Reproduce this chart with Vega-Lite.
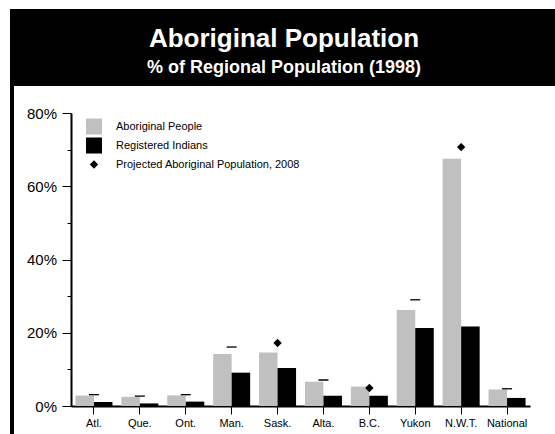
{
  "$schema": "https://vega.github.io/schema/vega-lite/v6.json",
  "padding": {"left": 10, "top": 9, "right": 0, "bottom": 0},
  "background": "white",
  "spacing": 0,
  "resolve": {"legend": {"color": "independent"}, "scale": {"color": "independent", "x": "independent", "y": "independent"}},
  "config": {"view": {"stroke": null}, "font": "Liberation Sans"},
  "datasets": {
    "bars": [
      {"region": "Atl.", "series": "Aboriginal People", "pct": 2.9},
      {"region": "Atl.", "series": "Registered Indians", "pct": 1.1},
      {"region": "Que.", "series": "Aboriginal People", "pct": 2.5},
      {"region": "Que.", "series": "Registered Indians", "pct": 0.7},
      {"region": "Ont.", "series": "Aboriginal People", "pct": 2.9},
      {"region": "Ont.", "series": "Registered Indians", "pct": 1.2},
      {"region": "Man.", "series": "Aboriginal People", "pct": 14.2},
      {"region": "Man.", "series": "Registered Indians", "pct": 9.1},
      {"region": "Sask.", "series": "Aboriginal People", "pct": 14.6},
      {"region": "Sask.", "series": "Registered Indians", "pct": 10.4},
      {"region": "Alta.", "series": "Aboriginal People", "pct": 6.6},
      {"region": "Alta.", "series": "Registered Indians", "pct": 2.8},
      {"region": "B.C.", "series": "Aboriginal People", "pct": 5.3},
      {"region": "B.C.", "series": "Registered Indians", "pct": 2.8},
      {"region": "Yukon", "series": "Aboriginal People", "pct": 26.2},
      {"region": "Yukon", "series": "Registered Indians", "pct": 21.3},
      {"region": "N.W.T.", "series": "Aboriginal People", "pct": 67.5},
      {"region": "N.W.T.", "series": "Registered Indians", "pct": 21.7},
      {"region": "National", "series": "Aboriginal People", "pct": 4.5},
      {"region": "National", "series": "Registered Indians", "pct": 2.2}
    ],
    "projected": [
      {"region": "Atl.", "pct": 3.1},
      {"region": "Que.", "pct": 2.7},
      {"region": "Ont.", "pct": 3.1},
      {"region": "Man.", "pct": 16.1},
      {"region": "Sask.", "pct": 17.2},
      {"region": "Alta.", "pct": 7.1},
      {"region": "B.C.", "pct": 4.9},
      {"region": "Yukon", "pct": 29.0},
      {"region": "N.W.T.", "pct": 70.7},
      {"region": "National", "pct": 4.7}
    ]
  },
  "vconcat": [
    {
      "width": 545,
      "height": 77,
      "view": {"fill": "black", "stroke": null},
      "data": {"values": [
        {"line": "title", "text": "Aboriginal Population"},
        {"line": "subtitle", "text": "% of Regional Population (1998)"}
      ]},
      "layer": [
        {
          "transform": [{"filter": "datum.line === 'title'"}],
          "mark": {"type": "text", "color": "white", "fontSize": 26, "fontWeight": "bold", "font": "Liberation Sans", "baseline": "alphabetic", "align": "center", "dx": 1.5, "dy": -1},
          "encoding": {"text": {"field": "text"}}
        },
        {
          "transform": [{"filter": "datum.line === 'subtitle'"}],
          "mark": {"type": "text", "color": "white", "fontSize": 18, "fontWeight": "bold", "font": "Liberation Sans", "baseline": "alphabetic", "align": "center", "dx": 1.5, "dy": 25},
          "encoding": {"text": {"field": "text"}}
        }
      ]
    },
    {
      "spacing": 0,
      "resolve": {"legend": {"color": "independent"}, "scale": {"color": "independent", "x": "independent", "y": "independent"}},
      "hconcat": [
        {
          "width": 4,
          "height": 348,
          "view": {"fill": "black", "stroke": null},
          "data": {"values": [{"t": ""}]},
          "mark": {"type": "text"},
          "encoding": {"text": {"field": "t"}}
        },
        {
          "spacing": 0,
          "bounds": "flush",
          "resolve": {"legend": {"color": "independent"}, "scale": {"color": "independent", "x": "independent", "y": "independent"}},
          "vconcat": [
            {
              "width": 459,
              "height": 26.5,
              "data": {"values": [{"t": ""}]},
              "mark": {"type": "text"},
              "encoding": {"text": {"field": "t"}}
            },
            {
              "width": 459,
              "height": 293,
              "resolve": {"axis": {"y": "independent"}},
              "layer": [
                {
                  "data": {"name": "bars"},
                  "mark": {"type": "bar"},
                  "encoding": {
                    "x": {
                      "field": "region", "type": "nominal",
                      "sort": ["Atl.", "Que.", "Ont.", "Man.", "Sask.", "Alta.", "B.C.", "Yukon", "N.W.T.", "National"],
                      "scale": {"paddingInner": 0, "paddingOuter": 0},
                      "axis": {"title": null, "labelAngle": 0, "labelFontSize": 11, "labelColor": "black", "labelFont": "Liberation Sans", "tickSize": 8, "tickColor": "black", "tickWidth": 1, "domainColor": "black", "domainWidth": 2, "labelPadding": 3, "grid": false}
                    },
                    "xOffset": {"field": "series", "type": "nominal", "scale": {"paddingOuter": 0.24, "paddingInner": 0}},
                    "y": {
                      "field": "pct", "type": "quantitative",
                      "scale": {"domain": [0, 80], "nice": false},
                      "axis": {
                        "orient": "left",
                        "title": null, "grid": false,
                        "values": [0, 20, 40, 60, 80],
                        "labelExpr": "datum.value + '%'",
                        "tickSize": 9,
                        "labelPadding": 5.5, "labelFontSize": 15, "labelColor": "black", "labelFont": "Liberation Sans",
                        "tickColor": "black", "tickWidth": 1, "domainColor": "black", "domainWidth": 2,
                        "minExtent": 57, "maxExtent": 57
                      }
                    },
                    "color": {
                      "field": "series", "type": "nominal",
                      "scale": {"domain": ["Aboriginal People", "Registered Indians", "Projected Aboriginal Population, 2008"], "range": ["#c0c0c0", "#000000", "#000000"]},
                      "legend": {
                        "orient": "none", "legendX": 15, "legendY": 5.5, "title": null, "padding": 0,
                        "labelFontSize": 11, "labelColor": "black", "labelFont": "Liberation Sans", "labelOffset": 14, "labelLimit": 0,
                        "symbolSize": 256, "symbolStrokeWidth": 0, "rowPadding": 3, "symbolType": "square",
                        "encode": {"symbols": {"update": {
                          "shape": {"signal": "datum.value === 'Projected Aboriginal Population, 2008' ? 'diamond' : 'square'"},
                          "size": {"signal": "datum.value === 'Projected Aboriginal Population, 2008' ? 70 : 256"}
                        }}}
                      }
                    }
                  }
                },
                {
                  "data": {"name": "projected"},
                  "transform": [{"filter": "indexof(['Sask.', 'B.C.', 'N.W.T.'], datum.region) >= 0"}],
                  "mark": {"type": "point", "shape": "diamond", "filled": true, "color": "black", "size": 70, "opacity": 1},
                  "encoding": {
                    "x": {"field": "region", "type": "nominal", "sort": ["Atl.", "Que.", "Ont.", "Man.", "Sask.", "Alta.", "B.C.", "Yukon", "N.W.T.", "National"]},
                    "y": {"field": "pct", "type": "quantitative", "axis": null}
                  }
                },
                {
                  "data": {"name": "projected"},
                  "transform": [{"filter": "indexof(['Sask.', 'B.C.', 'N.W.T.'], datum.region) < 0"}],
                  "mark": {"type": "tick", "orient": "horizontal", "color": "black", "size": 10, "thickness": 1.3, "opacity": 1},
                  "encoding": {
                    "x": {"field": "region", "type": "nominal", "sort": ["Atl.", "Que.", "Ont.", "Man.", "Sask.", "Alta.", "B.C.", "Yukon", "N.W.T.", "National"]},
                    "y": {"field": "pct", "type": "quantitative", "axis": {
                      "orient": "left",
                      "title": null, "grid": false, "values": [10, 30, 50, 70], "labels": false, "domain": false,
                      "tickSize": 4, "tickColor": "black", "tickWidth": 1, "minExtent": 57, "maxExtent": 57
                    }}
                  }
                }
              ]
            }
          ]
        }
      ]
    }
  ]
}
